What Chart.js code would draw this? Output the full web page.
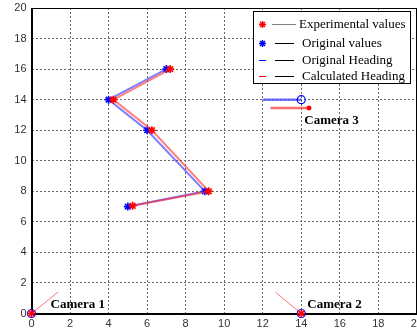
<!DOCTYPE html>
<html>
<head>
<meta charset="utf-8">
<script src="https://cdn.jsdelivr.net/npm/chart.js@4.4.1/dist/chart.umd.min.js"></script>
<style>
  html, body { margin: 0; padding: 0; background: #fff; overflow: hidden; width: 417px; height: 333px; }
  #wrap { position: absolute; left: 0; top: 0; width: 427px; height: 333px; }
</style>
</head>
<body>
<div id="wrap"><canvas id="c"></canvas></div>
<script>
// original trajectory (blue) and experimental estimate (red)
const origX = [5, 9, 6, 4, 7];
const origY = [7, 8, 12, 14, 16];
const expX = [5.25, 9.2, 6.25, 4.25, 7.2];
const expY = [7.05, 8, 12, 14, 16];

// cameras
const camNames = ['Camera 1', 'Camera 2', 'Camera 3'];
const camX = [0, 14, 14];
const camY = [0, 0, 14];
const camExpX = [0, 14];
const camExpY = [0, 0];

// heading segments [x0, x1], [y0, y1]
const headOrig3X = [12, 14];
const headOrig3Y = [14, 14];
const headCalc3X = [12.4, 14.4];
const headCalc3Y = [13.45, 13.45];
const headCalc1X = [0, 1.4];
const headCalc1Y = [0, 1.43];
const headCalc2X = [14, 12.65];
const headCalc2Y = [0, 1.4];

const ticks = [0, 2, 4, 6, 8, 10, 12, 14, 16, 18, 20];

const legendItems = [
  { text: 'Experimental values', mark: 'star', color: '#ff0000', line: '#808080' },
  { text: 'Original values', mark: 'star', color: '#0000ff', line: '#000' },
  { text: 'Original Heading', mark: 'dash', color: '#0000ff', line: '#000' },
  { text: 'Calculated Heading', mark: 'dash', color: '#ff0000', line: '#000' },
];

const pts = (xs, ys) => xs.map((x, i) => ({ x, y: ys[i] }));

function seg(xs, ys, color, width) {
  return {
    data: pts(xs, ys), showLine: true, borderColor: color, borderWidth: width,
    pointRadius: 0, fill: false, clip: false,
  };
}

const SERIF = '"Liberation Serif", "Times New Roman", serif';

function drawStar(ctx, x, y, r, color) {
  ctx.save();
  ctx.strokeStyle = color;
  ctx.lineWidth = 1.4;
  ctx.beginPath();
  ctx.moveTo(x - r, y); ctx.lineTo(x + r, y);
  ctx.moveTo(x, y - r); ctx.lineTo(x, y + r);
  const d = r * 0.7;
  ctx.moveTo(x - d, y - d); ctx.lineTo(x + d, y + d);
  ctx.moveTo(x - d, y + d); ctx.lineTo(x + d, y - d);
  ctx.stroke();
  ctx.restore();
}

const boxPlugin = {
  id: 'box',
  beforeDatasetsDraw(chart) {
    const { ctx, chartArea: a } = chart;
    ctx.save();
    ctx.strokeStyle = '#000';
    ctx.lineWidth = 1;
    ctx.strokeRect(Math.round(a.left) + 0.5, Math.round(a.top) + 0.5,
      Math.round(a.right - a.left) - 1, Math.round(a.bottom - a.top));
    ctx.restore();
  },
  afterDraw(chart) {
    const { ctx, scales } = chart;
    // camera labels
    const offs = [[19, -9], [6, -8.5], [3, 21]];
    ctx.save();
    ctx.font = 'bold 13px ' + SERIF;
    ctx.fillStyle = '#000';
    ctx.textBaseline = 'middle';
    camNames.forEach((n, i) => {
      const px = scales.x.getPixelForValue(camX[i]) + offs[i][0];
      const py = scales.y.getPixelForValue(camY[i]) + offs[i][1];
      ctx.fillText(n, px, py);
    });
    ctx.restore();

    // legend
    const L = 253.5, T = 11.5, R = 410.5, B = 83.5;
    ctx.save();
    ctx.fillStyle = '#fff';
    ctx.fillRect(L, T, R - L, B - T);
    ctx.strokeStyle = '#000';
    ctx.lineWidth = 1;
    ctx.strokeRect(L, T, R - L, B - T);
    const rowsY = [24.5, 43.5, 60.5, 76.5];
    ctx.font = '13px ' + SERIF;
    ctx.textBaseline = 'middle';
    legendItems.forEach((it, i) => {
      const y = rowsY[i];
      if (it.mark === 'star') {
        drawStar(ctx, 262.5, y, 3.5, it.color);
      } else {
        ctx.strokeStyle = it.color;
        ctx.lineWidth = 1;
        ctx.beginPath(); ctx.moveTo(259, y); ctx.lineTo(266, y); ctx.stroke();
      }
      ctx.strokeStyle = it.line;
      ctx.lineWidth = 1;
      ctx.beginPath();
      ctx.moveTo(i === 0 ? 272 : 275, y);
      ctx.lineTo(i === 0 ? 296 : 294, y);
      ctx.stroke();
      ctx.fillStyle = '#000';
      ctx.fillText(it.text, i === 0 ? 299 : 302, y + 0.5);
    });
    ctx.restore();
  },
};

const tickFont = { family: '"Liberation Sans", Arial, sans-serif', size: 11 };

new Chart(document.getElementById('c'), {
  type: 'scatter',
  data: {
    datasets: [
      // camera markers: red stars drawn on top of blue circles
      {
        data: pts(camExpX, camExpY), pointStyle: 'star', pointRadius: 4, clip: false,
        borderColor: '#ff0000', borderWidth: 1.5, backgroundColor: '#ff0000',
      },
      {
        data: pts(camX, camY), pointStyle: 'circle', pointRadius: 4, clip: false,
        borderColor: '#0000ff', borderWidth: 1.2, backgroundColor: 'rgba(0,0,0,0)',
      },
      // experimental trajectory
      {
        data: pts(expX, expY), showLine: true, borderColor: 'rgba(255,40,40,0.6)', borderWidth: 2,
        pointStyle: 'star', pointRadius: 4, pointBorderColor: '#ff0000', pointBorderWidth: 1.6,
      },
      // original trajectory
      {
        data: pts(origX, origY), showLine: true, borderColor: 'rgba(40,40,255,0.6)', borderWidth: 2,
        pointStyle: 'star', pointRadius: 4, pointBorderColor: '#0000ff', pointBorderWidth: 1.6,
      },
      // headings
      {
        ...seg(headCalc3X, headCalc3Y, 'rgba(255,60,60,0.75)', 2.5),
        pointStyle: 'star', pointRadius: [0, 2.5], pointBorderColor: '#ff0000', pointBorderWidth: 1.5,
      },
      seg(headOrig3X, headOrig3Y, 'rgba(60,60,255,0.7)', 2.5),
      seg(headCalc1X, headCalc1Y, 'rgba(255,60,60,0.7)', 1),
      seg(headCalc2X, headCalc2Y, 'rgba(255,60,60,0.7)', 1),
    ],
  },
  options: {
    responsive: true,
    maintainAspectRatio: false,
    animation: false,
    layout: { padding: { top: 8, right: 6.5, left: 0, bottom: 0 } },
    plugins: { legend: { display: false }, tooltip: { enabled: false } },
    scales: {
      x: {
        type: 'linear', min: 0, max: 20,
        afterBuildTicks: s => { s.ticks = ticks.map(v => ({ value: v })); },
        afterFit: s => { s.height = 19.5; },
        ticks: { color: '#333', font: tickFont, padding: 4, maxRotation: 0 },
        grid: { color: '#666', drawTicks: false, lineWidth: 1 },
        border: { color: '#000', width: 1, dash: [2, 2] },
      },
      y: {
        type: 'linear', min: 0, max: 20,
        afterBuildTicks: s => { s.ticks = ticks.map(v => ({ value: v })); },
        afterFit: s => { s.width = 31.5; s.paddingTop = 0; s.paddingBottom = 0; },
        ticks: { color: '#333', font: tickFont, padding: 5 },
        grid: { color: '#666', drawTicks: false, lineWidth: 1 },
        border: { color: '#000', width: 1, dash: [2, 2] },
      },
    },
  },
  plugins: [boxPlugin],
});
</script>
</body>
</html>
